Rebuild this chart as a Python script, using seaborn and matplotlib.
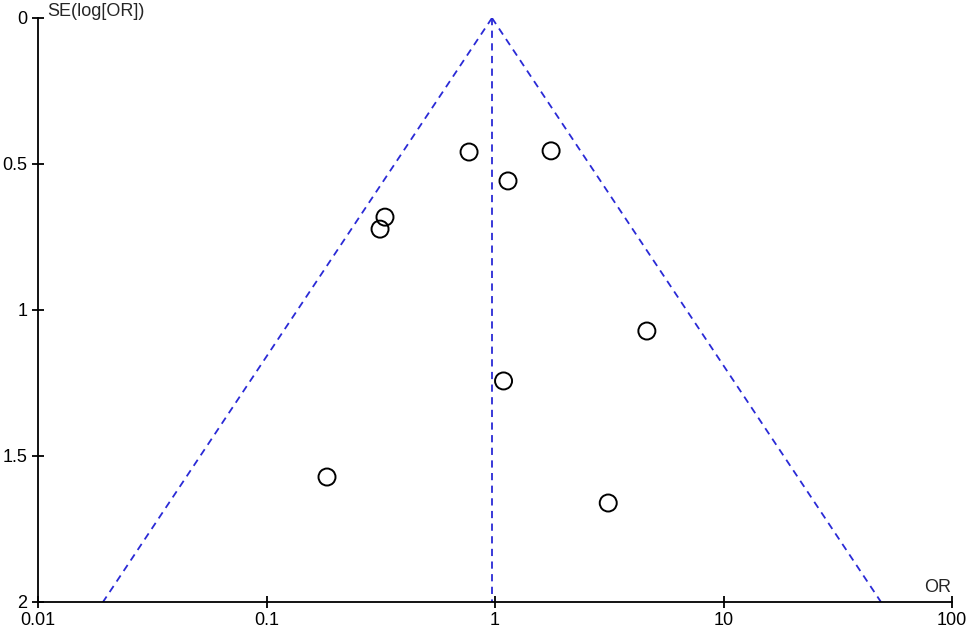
import numpy as np
import pandas as pd
import matplotlib
matplotlib.use("Agg")
import matplotlib.pyplot as plt
import seaborn as sns

study_or = [0.77, 1.76, 1.14, 0.33, 0.314, 4.62, 1.09, 0.184, 3.13]
study_se = [0.459, 0.455, 0.558, 0.682, 0.723, 1.072, 1.243, 1.572, 1.661]
pooled_or = 0.97
x_ticks = [0.01, 0.1, 1, 10, 100]
x_tick_labels = ["0.01", "0.1", "1", "10", "100"]
y_ticks = [0, 0.5, 1, 1.5, 2]
y_tick_labels = ["0", "0.5", "1", "1.5", "2"]

sns.set_style("white")
plt.rcParams['font.family'] = ['Liberation Sans', 'DejaVu Sans']

df = pd.DataFrame({"OR": study_or, "SE": study_se})

fig = plt.figure(figsize=(9.68, 6.29), dpi=100)
ax = fig.add_axes([38/968, 27/629, (952-38)/968, (602-18)/629])

blue = "#2a2ad6"
se_line = np.array([0.0, 2.0])
lp = np.log(pooled_or)
ax.plot(np.exp(lp - 1.96 * se_line), se_line, ls=(0, (4, 3)), color=blue, lw=1.3)
ax.plot(np.exp(lp + 1.96 * se_line), se_line, ls=(0, (4, 3)), color=blue, lw=1.3)
ax.plot([pooled_or, pooled_or], se_line, ls=(0, (4, 3)), color=blue, lw=1.3)

sns.scatterplot(data=df, x="OR", y="SE", ax=ax, marker="o", s=150,
                facecolor="none", edgecolor="black", linewidth=1.4, zorder=3)

ax.set_xscale("log")
ax.set_xlim(0.01, 100)
ax.set_ylim(2, 0)
ax.set_xticks(x_ticks)
ax.set_xticklabels(x_tick_labels)
ax.set_yticks(y_ticks)
ax.set_yticklabels(y_tick_labels)
ax.minorticks_off()
ax.tick_params(axis="both", which="major", bottom=True, left=True,
               direction="inout", length=9, width=1.3,
               labelsize=13, colors="black")
ax.tick_params(axis="x", pad=3)
ax.tick_params(axis="y", pad=3)
for s in ["top", "right"]:
    ax.spines[s].set_visible(False)
for s in ["left", "bottom"]:
    ax.spines[s].set_color("black")
    ax.spines[s].set_linewidth(1.3)
ax.set_xlabel("")
ax.set_ylabel("")
fig.text(47/968, 1 - 11/629, "SE(log[OR])", fontsize=13, ha="left", va="center")
fig.text(951/968, 1 - 587/629, "OR", fontsize=13, ha="right", va="center")

fig.savefig("out.png", dpi=100)
